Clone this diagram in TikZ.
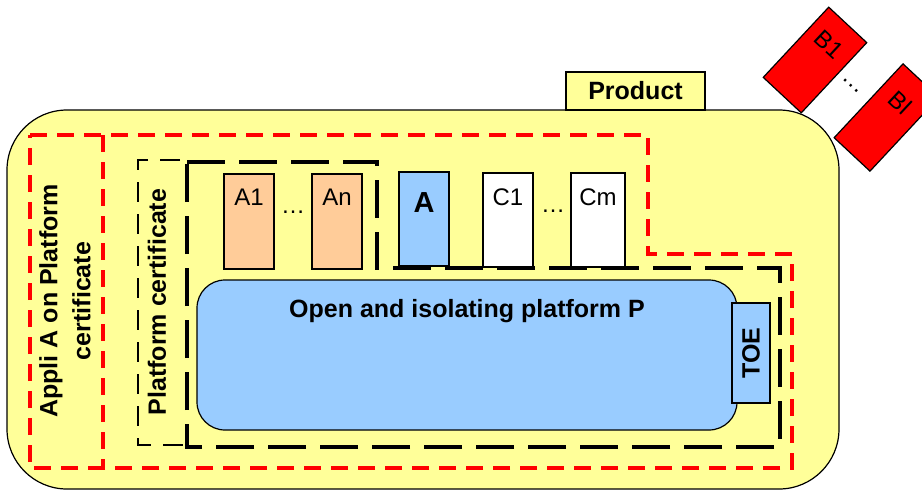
\documentclass[tikz,border=0pt]{standalone}
\usepackage{fontspec}
\setmainfont{Liberation Sans}
\usetikzlibrary{calc}
\definecolor{ylw}{HTML}{FFFF99}
\definecolor{lblue}{HTML}{99CCFF}
\definecolor{peach}{HTML}{FFCC99}
\definecolor{rd}{HTML}{FF0000}
\begin{document}
\begin{tikzpicture}[x=1pt,y=-1pt,
  font=\fontsize{24}{28}\selectfont,
  bfont/.style={font=\fontsize{25}{29}\selectfont\bfseries},
  box/.style={draw=black, line width=1.2pt, inner sep=0pt, outer sep=0pt},
  app/.style={box, minimum width=50pt, minimum height=95pt},
  applabel/.style={inner sep=0pt},
  reddash/.style={draw=rd, line width=3.5pt, dash pattern=on 17pt off 10pt},
  thinblack/.style={draw=black, line width=2.5pt, dash pattern=on 20pt off 12pt},
  thickblack/.style={draw=black, line width=4pt, dash pattern=on 38pt off 14pt},
  bbox/.style={box, fill=rd, rotate=-43, align=center},
  blabel/.style={inner sep=0pt, rotate=-43}]
\useasboundingbox (0,0) rectangle (922,491);

% main product body
\node[box, fill=ylw, rounded corners=60pt, minimum width=832pt, minimum height=379pt] (prod) at (423,299.5) {};
\node[box, fill=ylw, minimum width=139pt, minimum height=38pt, bfont] (tab) at (635.5,91) {Product};

% B boxes
\node[bbox, minimum width=52pt, minimum height=96pt] (b1) at (815,60) {B1\\[14pt]\mbox{}};
\node[bbox, minimum width=49pt, minimum height=101pt] (bl) at (886.5,117.5) {Bl\\[12pt]\mbox{}};
\node[blabel] (bdots) at (851,86) {…};

% red dashed outline
\draw[reddash] (30,135) -- (648,135) -- (648,254) -- (792,254) -- (792,468) -- (30,468) -- cycle;
\draw[reddash] (103,135) -- (103,468);
\node[rotate=90, align=center, inner sep=0pt, font=\fontsize{25}{33}\selectfont\bfseries] (appcert) at (65,301) {Appli A on Platform\\certificate};

% platform certificate box
\draw[thinblack] (180,160) -- (138,160) -- (138,445) -- (187,445);
\node[rotate=90, inner sep=0pt, bfont] (platcert) at (157,302) {Platform certificate};

% applications
\node[app, fill=peach, anchor=north west] (a1) at (224,174) {};
\node[applabel] at ($(a1.north)+(0,23)$) {A1};
\node[app, fill=peach, anchor=north west] (an) at (312,174) {};
\node[applabel] at ($(an.north)+(0,23)$) {An};
\node[applabel] (d1) at (293,212) {…};
\node[app, fill=lblue, anchor=north west, minimum height=94pt] (a) at (399,172) {};
\node[applabel, font=\fontsize{29}{32}\selectfont\bfseries] at ($(a.north)+(0,31)$) {A};
\node[app, fill=white, anchor=north west, minimum height=94pt] (c1) at (483,173) {};
\node[applabel] at ($(c1.north)+(0,24)$) {C1};
\node[app, fill=white, anchor=north west, minimum height=94pt, minimum width=54pt] (cm) at (571,173) {};
\node[applabel] at ($(cm.north)+(0,24)$) {Cm};
\node[applabel] (d2) at (553,211) {…};

% platform
\node[box, fill=lblue, rounded corners=28pt, minimum width=540pt, minimum height=150pt] (plat) at (467,355) {};
\node[inner sep=0pt, bfont] (platt) at (467,311) {Open and isolating platform P};
\node[box, fill=lblue, minimum width=38pt, minimum height=100pt] (toe) at (751,353) {};
\node[rotate=90, inner sep=0pt, bfont] at (toe.center) {TOE};

% thick black dashed outline
\draw[thickblack] (187,162) -- (377,162) -- (377,268) -- (780,268) -- (780,447) -- (187,447) -- cycle;
\end{tikzpicture}
\end{document}
